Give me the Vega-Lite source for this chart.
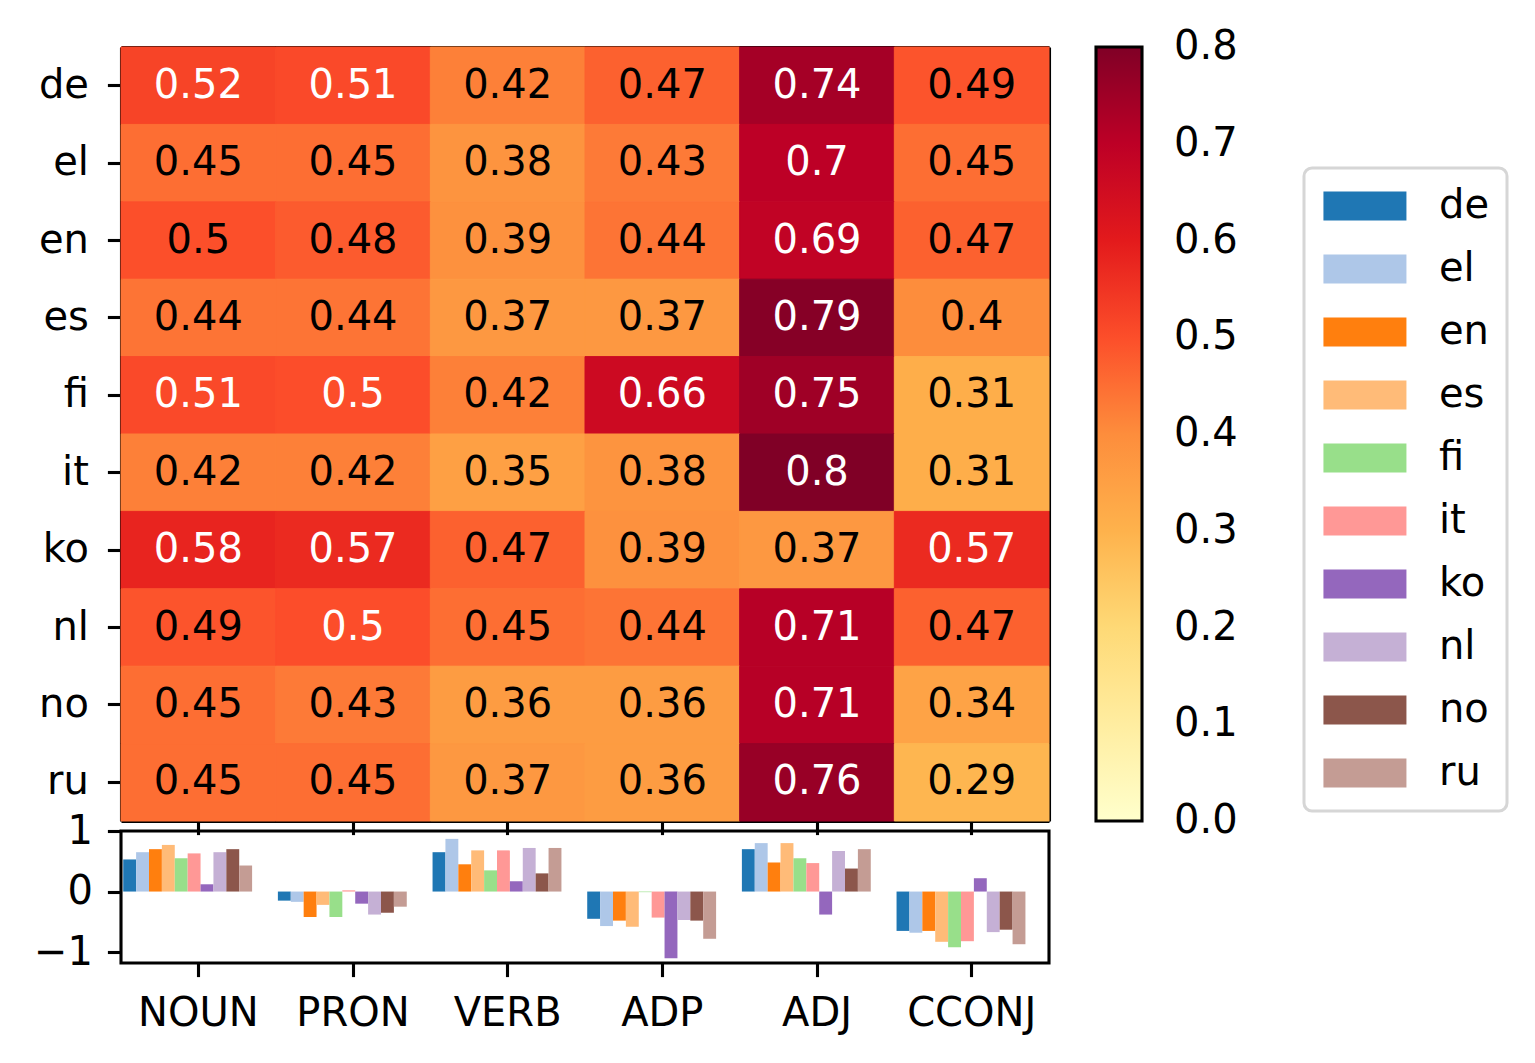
{
  "$schema": "https://vega.github.io/schema/vega-lite/v6.json",
  "padding": {"left": 31, "top": 46, "right": 0, "bottom": 0},
  "bounds": "flush",
  "spacing": 10,
  "config": {
    "font": "DejaVu Sans",
    "axis": {
      "labelFontSize": 40,
      "labelColor": "black",
      "tickColor": "black",
      "tickWidth": 3.1,
      "tickSize": 13.6,
      "domainColor": "black",
      "domainWidth": 3.1,
      "labelPadding": 15,
      "grid": false,
      "labelAngle": 0,
      "zindex": 1
    },
    "legend": {"labelColor": "black", "labelFont": "DejaVu Sans"}
  },
  "datasets": {
    "heat": [
      {"lang": "de", "pos": "NOUN", "v": 0.52}, {"lang": "de", "pos": "PRON", "v": 0.51}, {"lang": "de", "pos": "VERB", "v": 0.42},
      {"lang": "de", "pos": "ADP", "v": 0.47}, {"lang": "de", "pos": "ADJ", "v": 0.74}, {"lang": "de", "pos": "CCONJ", "v": 0.49},
      {"lang": "el", "pos": "NOUN", "v": 0.45}, {"lang": "el", "pos": "PRON", "v": 0.45}, {"lang": "el", "pos": "VERB", "v": 0.38},
      {"lang": "el", "pos": "ADP", "v": 0.43}, {"lang": "el", "pos": "ADJ", "v": 0.70}, {"lang": "el", "pos": "CCONJ", "v": 0.45},
      {"lang": "en", "pos": "NOUN", "v": 0.498}, {"lang": "en", "pos": "PRON", "v": 0.48}, {"lang": "en", "pos": "VERB", "v": 0.39},
      {"lang": "en", "pos": "ADP", "v": 0.44}, {"lang": "en", "pos": "ADJ", "v": 0.69}, {"lang": "en", "pos": "CCONJ", "v": 0.47},
      {"lang": "es", "pos": "NOUN", "v": 0.44}, {"lang": "es", "pos": "PRON", "v": 0.44}, {"lang": "es", "pos": "VERB", "v": 0.37},
      {"lang": "es", "pos": "ADP", "v": 0.37}, {"lang": "es", "pos": "ADJ", "v": 0.79}, {"lang": "es", "pos": "CCONJ", "v": 0.40},
      {"lang": "fi", "pos": "NOUN", "v": 0.51}, {"lang": "fi", "pos": "PRON", "v": 0.502}, {"lang": "fi", "pos": "VERB", "v": 0.42},
      {"lang": "fi", "pos": "ADP", "v": 0.66}, {"lang": "fi", "pos": "ADJ", "v": 0.75}, {"lang": "fi", "pos": "CCONJ", "v": 0.31},
      {"lang": "it", "pos": "NOUN", "v": 0.42}, {"lang": "it", "pos": "PRON", "v": 0.42}, {"lang": "it", "pos": "VERB", "v": 0.35},
      {"lang": "it", "pos": "ADP", "v": 0.38}, {"lang": "it", "pos": "ADJ", "v": 0.80}, {"lang": "it", "pos": "CCONJ", "v": 0.31},
      {"lang": "ko", "pos": "NOUN", "v": 0.58}, {"lang": "ko", "pos": "PRON", "v": 0.57}, {"lang": "ko", "pos": "VERB", "v": 0.47},
      {"lang": "ko", "pos": "ADP", "v": 0.39}, {"lang": "ko", "pos": "ADJ", "v": 0.37}, {"lang": "ko", "pos": "CCONJ", "v": 0.57},
      {"lang": "nl", "pos": "NOUN", "v": 0.49}, {"lang": "nl", "pos": "PRON", "v": 0.502}, {"lang": "nl", "pos": "VERB", "v": 0.45},
      {"lang": "nl", "pos": "ADP", "v": 0.44}, {"lang": "nl", "pos": "ADJ", "v": 0.71}, {"lang": "nl", "pos": "CCONJ", "v": 0.47},
      {"lang": "no", "pos": "NOUN", "v": 0.45}, {"lang": "no", "pos": "PRON", "v": 0.43}, {"lang": "no", "pos": "VERB", "v": 0.36},
      {"lang": "no", "pos": "ADP", "v": 0.36}, {"lang": "no", "pos": "ADJ", "v": 0.71}, {"lang": "no", "pos": "CCONJ", "v": 0.34},
      {"lang": "ru", "pos": "NOUN", "v": 0.45}, {"lang": "ru", "pos": "PRON", "v": 0.45}, {"lang": "ru", "pos": "VERB", "v": 0.37},
      {"lang": "ru", "pos": "ADP", "v": 0.36}, {"lang": "ru", "pos": "ADJ", "v": 0.76}, {"lang": "ru", "pos": "CCONJ", "v": 0.29}
    ],
    "bars": [
      {"pos": "NOUN", "lang": "de", "d": 0.53}, {"pos": "NOUN", "lang": "el", "d": 0.65}, {"pos": "NOUN", "lang": "en", "d": 0.70},
      {"pos": "NOUN", "lang": "es", "d": 0.77}, {"pos": "NOUN", "lang": "fi", "d": 0.55}, {"pos": "NOUN", "lang": "it", "d": 0.63},
      {"pos": "NOUN", "lang": "ko", "d": 0.12}, {"pos": "NOUN", "lang": "nl", "d": 0.65}, {"pos": "NOUN", "lang": "no", "d": 0.70},
      {"pos": "NOUN", "lang": "ru", "d": 0.43},
      {"pos": "PRON", "lang": "de", "d": -0.15}, {"pos": "PRON", "lang": "el", "d": -0.17}, {"pos": "PRON", "lang": "en", "d": -0.42},
      {"pos": "PRON", "lang": "es", "d": -0.22}, {"pos": "PRON", "lang": "fi", "d": -0.42}, {"pos": "PRON", "lang": "it", "d": 0.02},
      {"pos": "PRON", "lang": "ko", "d": -0.20}, {"pos": "PRON", "lang": "nl", "d": -0.38}, {"pos": "PRON", "lang": "no", "d": -0.35},
      {"pos": "PRON", "lang": "ru", "d": -0.25},
      {"pos": "VERB", "lang": "de", "d": 0.65}, {"pos": "VERB", "lang": "el", "d": 0.87}, {"pos": "VERB", "lang": "en", "d": 0.45},
      {"pos": "VERB", "lang": "es", "d": 0.68}, {"pos": "VERB", "lang": "fi", "d": 0.35}, {"pos": "VERB", "lang": "it", "d": 0.68},
      {"pos": "VERB", "lang": "ko", "d": 0.17}, {"pos": "VERB", "lang": "nl", "d": 0.72}, {"pos": "VERB", "lang": "no", "d": 0.30},
      {"pos": "VERB", "lang": "ru", "d": 0.72},
      {"pos": "ADP", "lang": "de", "d": -0.45}, {"pos": "ADP", "lang": "el", "d": -0.57}, {"pos": "ADP", "lang": "en", "d": -0.48},
      {"pos": "ADP", "lang": "es", "d": -0.58}, {"pos": "ADP", "lang": "fi", "d": -0.01}, {"pos": "ADP", "lang": "it", "d": -0.43},
      {"pos": "ADP", "lang": "ko", "d": -1.10}, {"pos": "ADP", "lang": "nl", "d": -0.47}, {"pos": "ADP", "lang": "no", "d": -0.48},
      {"pos": "ADP", "lang": "ru", "d": -0.78},
      {"pos": "ADJ", "lang": "de", "d": 0.70}, {"pos": "ADJ", "lang": "el", "d": 0.80}, {"pos": "ADJ", "lang": "en", "d": 0.48},
      {"pos": "ADJ", "lang": "es", "d": 0.80}, {"pos": "ADJ", "lang": "fi", "d": 0.55}, {"pos": "ADJ", "lang": "it", "d": 0.47},
      {"pos": "ADJ", "lang": "ko", "d": -0.38}, {"pos": "ADJ", "lang": "nl", "d": 0.67}, {"pos": "ADJ", "lang": "no", "d": 0.38},
      {"pos": "ADJ", "lang": "ru", "d": 0.70},
      {"pos": "CCONJ", "lang": "de", "d": -0.65}, {"pos": "CCONJ", "lang": "el", "d": -0.68}, {"pos": "CCONJ", "lang": "en", "d": -0.65},
      {"pos": "CCONJ", "lang": "es", "d": -0.83}, {"pos": "CCONJ", "lang": "fi", "d": -0.92}, {"pos": "CCONJ", "lang": "it", "d": -0.82},
      {"pos": "CCONJ", "lang": "ko", "d": 0.22}, {"pos": "CCONJ", "lang": "nl", "d": -0.67}, {"pos": "CCONJ", "lang": "no", "d": -0.63},
      {"pos": "CCONJ", "lang": "ru", "d": -0.87}
    ]
  },
  "resolve": {"scale": {"color": "independent"}, "legend": {"color": "independent"}},
  "vconcat": [
    {
      "width": 928,
      "height": 774,
      "data": {"name": "heat"},
      "view": {"stroke": null},
      "layer": [
        {
          "mark": {"type": "rect", "strokeWidth": 1},
          "encoding": {
            "x": {"field": "pos", "type": "nominal", "sort": ["NOUN", "PRON", "VERB", "ADP", "ADJ", "CCONJ"],
                  "scale": {"paddingInner": 0, "paddingOuter": 0}, "title": null,
                  "axis": {"orient": "bottom", "labels": false}},
            "y": {"field": "lang", "type": "nominal", "sort": ["de", "el", "en", "es", "fi", "it", "ko", "nl", "no", "ru"],
                  "scale": {"paddingInner": 0, "paddingOuter": 0}, "title": null,
                  "axis": {"orient": "left", "labelPadding": 19}},
            "stroke": {
              "field": "v", "type": "quantitative", "legend": null,
              "scale": {
                "domain": [0, 0.1, 0.2, 0.3, 0.4, 0.5, 0.6, 0.7, 0.8],
                "range": ["#ffffcc", "#ffeda0", "#fed976", "#feb24c", "#fd8d3c", "#fc4e2a", "#e31a1c", "#bd0026", "#800026"],
                "interpolate": "rgb"
              }
            },
            "color": {
              "field": "v", "type": "quantitative",
              "scale": {
                "domain": [0, 0.1, 0.2, 0.3, 0.4, 0.5, 0.6, 0.7, 0.8],
                "range": ["#ffffcc", "#ffeda0", "#fed976", "#feb24c", "#fd8d3c", "#fc4e2a", "#e31a1c", "#bd0026", "#800026"],
                "interpolate": "rgb"
              },
              "legend": {
                "orient": "right",
                "offset": 47,
                "title": null,
                "direction": "vertical",
                "gradientLength": 774,
                "gradientThickness": 46,
                "gradientStrokeColor": "black",
                "gradientStrokeWidth": 3.1,
                "values": [0, 0.1, 0.2, 0.3, 0.4, 0.5, 0.6, 0.7, 0.8],
                "format": ".1f",
                "labelFontSize": 40,
                "labelOffset": 32,
                "labelOverlap": false,
                "padding": 0,
                "encode": {"labels": {"update": {"baseline": {"value": "middle"}}}}
              }
            }
          }
        },
        {
          "mark": {"type": "text", "fontSize": 40},
          "encoding": {
            "x": {"field": "pos", "type": "nominal", "sort": ["NOUN", "PRON", "VERB", "ADP", "ADJ", "CCONJ"],
                  "title": null, "axis": {"orient": "top", "labels": false, "ticks": false}},
            "y": {"field": "lang", "type": "nominal", "sort": ["de", "el", "en", "es", "fi", "it", "ko", "nl", "no", "ru"],
                  "title": null, "axis": {"orient": "right", "labels": false, "ticks": false}},
            "text": {"field": "v", "type": "quantitative", "format": ".2~f"},
            "color": {"condition": {"test": "datum.v > 0.5", "value": "white"}, "value": "black"}
          }
        }
      ],
      "resolve": {"axis": {"x": "independent", "y": "independent"}}
    },
    {
      "width": 928,
      "height": 132,
      "data": {"name": "bars"},
      "view": {"stroke": "black", "strokeWidth": 3.1},
      "mark": {"type": "bar"},
      "encoding": {
        "x": {"field": "pos", "type": "nominal", "sort": ["NOUN", "PRON", "VERB", "ADP", "ADJ", "CCONJ"],
              "scale": {"paddingInner": 0, "paddingOuter": 0}, "title": null,
              "axis": {"domain": false, "labelPadding": 17}},
        "xOffset": {"field": "lang", "type": "nominal", "sort": ["de", "el", "en", "es", "fi", "it", "ko", "nl", "no", "ru"],
                    "scale": {"paddingInner": 0, "paddingOuter": 1.235, "align": 0.086}},
        "y": {"field": "d", "type": "quantitative", "scale": {"domain": [-1.18, 1.0], "nice": false}, "title": null,
              "axis": {"values": [-1, 0, 1], "domain": false}},
        "color": {
          "field": "lang", "type": "nominal",
          "scale": {
            "domain": ["de", "el", "en", "es", "fi", "it", "ko", "nl", "no", "ru"],
            "range": ["#1f77b4", "#aec7e8", "#ff7f0e", "#ffbb78", "#98df8a", "#ff9896", "#9467bd", "#c5b0d5", "#8c564b", "#c49c94"]
          },
          "legend": {
            "orient": "none",
            "legendX": 1183,
            "legendY": -663,
            "title": null,
            "symbolType": "M-1.28,-1h5.724v2h-5.724z",
            "symbolSize": 841,
            "symbolStrokeWidth": 0,
            "labelFontSize": 40,
            "labelOffset": 77,
            "rowPadding": 23,
            "padding": 18,
            "strokeColor": "#d6d6d6",
            "fillColor": "white",
            "cornerRadius": 8,
            "encode": {"legend": {"update": {"strokeWidth": {"value": 3}}}}
          }
        }
      }
    }
  ]
}
